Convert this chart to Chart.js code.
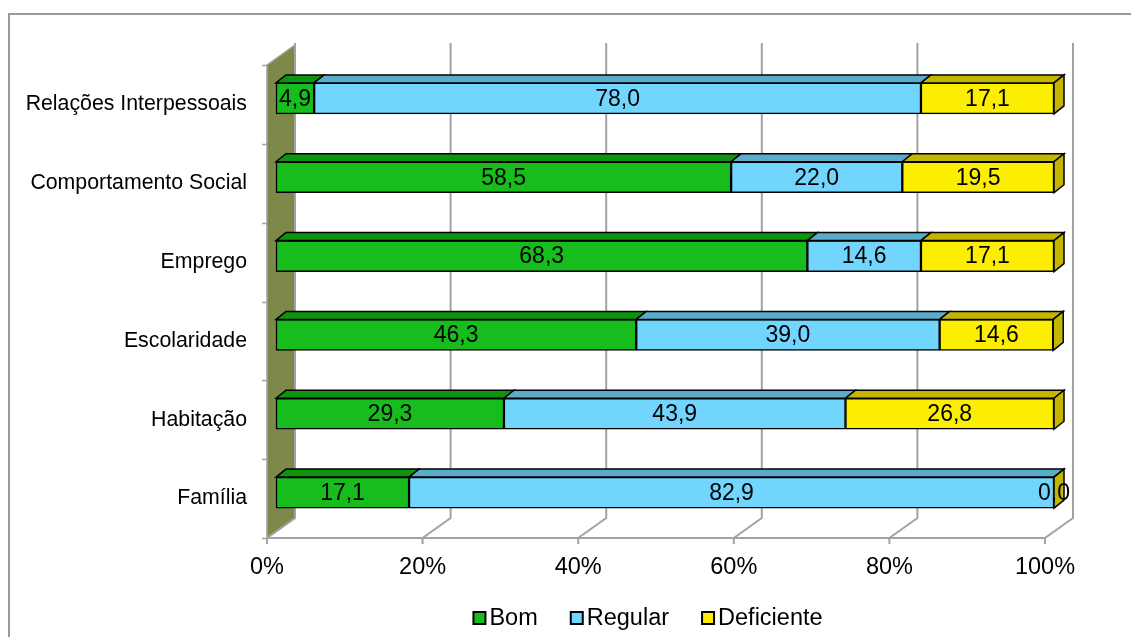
<!DOCTYPE html>
<html>
<head>
<meta charset="utf-8">
<title>Avaliação por domínio</title>
<script src="https://cdn.jsdelivr.net/npm/chart.js@4.4.1/dist/chart.umd.min.js"></script>
<style>
    html, body { margin: 0; padding: 0; background: #ffffff; }
    #wrap { width: 1131px; height: 637px; }
</style>
</head>
<body>
<div id="wrap"><canvas id="chart" width="1131" height="637"></canvas></div>
<script>
// Percentages per domain, one array per rating
const categories = ['Relações Interpessoais', 'Comportamento Social', 'Emprego', 'Escolaridade', 'Habitação', 'Família'];
const bom = [4.9, 58.5, 68.3, 46.3, 29.3, 17.1];
const regular = [78.0, 22.0, 14.6, 39.0, 43.9, 82.9];
const deficiente = [17.1, 19.5, 17.1, 14.6, 26.8, 0.0];
const seriesNames = ['Bom', 'Regular', 'Deficiente'];
const xTicks = [0, 20, 40, 60, 80, 100];

// front face / top-and-side face colours
const frontColors = ['#17BD1D', '#72D5FE', '#FBEE00'];
const shadeColors = ['#0E940E', '#5AADCA', '#C4B600'];

const WALL = { dx: 28, dy: -20 };      // depth of the back wall
const BAR_OFF = { dx: 9, dy: -6 };     // bars sit a bit behind the front plane
const BAR_DEPTH = { dx: 10, dy: -8 };  // thickness of each bar block
const GRID = '#A2A2A2';
const FONT = "'Liberation Sans', Arial, sans-serif";

Chart.defaults.font.family = FONT;
Chart.defaults.color = '#000000';

function poly(ctx, pts, fill, stroke, lw) {
    ctx.beginPath();
    ctx.moveTo(pts[0][0], pts[0][1]);
    for (let i = 1; i < pts.length; i++) ctx.lineTo(pts[i][0], pts[i][1]);
    ctx.closePath();
    if (fill) { ctx.fillStyle = fill; ctx.fill(); }
    if (stroke) { ctx.strokeStyle = stroke; ctx.lineWidth = lw || 1; ctx.stroke(); }
}

function fmt(v) {
    return v.toFixed(1).replace('.', ',');
}

// Draws the walls, floor and gridlines, then the 3D faces and value labels of the bars
const box3d = {
    id: 'box3d',
    beforeDatasetsDraw(chart) {
        const ctx = chart.ctx;
        const a = chart.chartArea;
        const xs = chart.scales.x;

        ctx.save();
        // outer frame
        ctx.strokeStyle = '#9A9A9A';
        ctx.lineWidth = 2;
        ctx.beginPath();
        ctx.moveTo(9, 660);
        ctx.lineTo(9, 14);
        ctx.lineTo(1160, 14);
        ctx.stroke();

        // left wall
        poly(ctx, [
            [a.left, a.top],
            [a.left + WALL.dx, a.top + WALL.dy],
            [a.left + WALL.dx, a.bottom + WALL.dy],
            [a.left, a.bottom]
        ], '#7C8948', GRID, 1.5);

        // category ticks on the wall edge
        const step = (a.bottom - a.top) / categories.length;
        ctx.strokeStyle = GRID;
        ctx.lineWidth = 1.5;
        for (let i = 0; i <= categories.length; i++) {
            const y = Math.round(a.top + i * step) + 0.5;
            ctx.beginPath();
            ctx.moveTo(a.left - 5, y);
            ctx.lineTo(a.left, y);
            ctx.stroke();
        }

        // floor edge, floor diagonals and back-wall gridlines
        ctx.lineWidth = 2;
        ctx.beginPath();
        ctx.moveTo(a.left, a.bottom);
        ctx.lineTo(a.right, a.bottom);
        ctx.stroke();
        xTicks.forEach(function(t) {
            const px = xs.getPixelForValue(t);
            ctx.beginPath();
            ctx.moveTo(px, a.bottom + 6);
            ctx.lineTo(px, a.bottom);
            ctx.lineTo(px + WALL.dx, a.bottom + WALL.dy);
            ctx.lineTo(px + WALL.dx, a.top + WALL.dy - 2);
            ctx.stroke();
        });
        ctx.restore();

        // shift the bars back into the scene
        ctx.save();
        ctx.translate(BAR_OFF.dx, BAR_OFF.dy);
    },
    afterDatasetsDraw(chart) {
        const ctx = chart.ctx;
        const last = chart.data.datasets.length - 1;
        chart.data.datasets.forEach(function(ds, di) {
            const meta = chart.getDatasetMeta(di);
            meta.data.forEach(function(el, i) {
                const p = el.getProps(['x', 'y', 'base', 'height'], true);
                const x0 = Math.min(p.x, p.base), x1 = Math.max(p.x, p.base);
                const y0 = p.y - p.height / 2, y1 = p.y + p.height / 2;
                // top face
                poly(ctx, [
                    [x0, y0],
                    [x0 + BAR_DEPTH.dx, y0 + BAR_DEPTH.dy],
                    [x1 + BAR_DEPTH.dx, y0 + BAR_DEPTH.dy],
                    [x1, y0]
                ], shadeColors[di], '#000', 1.5);
                // right end face on the last segment
                if (di === last) {
                    poly(ctx, [
                        [x1, y0],
                        [x1 + BAR_DEPTH.dx, y0 + BAR_DEPTH.dy],
                        [x1 + BAR_DEPTH.dx, y1 + BAR_DEPTH.dy],
                        [x1, y1]
                    ], shadeColors[di], '#000', 1.5);
                }
            });
        });
        // value labels
        ctx.font = '23px ' + FONT;
        ctx.fillStyle = '#000';
        ctx.textAlign = 'center';
        ctx.textBaseline = 'middle';
        chart.data.datasets.forEach(function(ds, di) {
            chart.getDatasetMeta(di).data.forEach(function(el, i) {
                const p = el.getProps(['x', 'y', 'base'], true);
                ctx.fillText(fmt(ds.data[i]), (p.x + p.base) / 2, p.y + 1);
            });
        });
        ctx.restore();
    },
    afterDraw(chart) {
        // legend
        const ctx = chart.ctx;
        ctx.save();
        ctx.font = '23.5px ' + FONT;
        ctx.textBaseline = 'middle';
        ctx.textAlign = 'left';
        const box = 12, gapText = 4, gapItem = 33;
        const widths = seriesNames.map(n => box + gapText + ctx.measureText(n).width);
        const total = widths.reduce((s, w) => s + w, 0) + gapItem * (seriesNames.length - 1);
        let x = 648 - total / 2;
        const cy = 618;
        seriesNames.forEach(function(name, i) {
            ctx.fillStyle = frontColors[i];
            ctx.fillRect(x, cy - box / 2, box, box);
            ctx.strokeStyle = '#000';
            ctx.lineWidth = 2;
            ctx.strokeRect(x, cy - box / 2, box, box);
            ctx.fillStyle = '#000';
            ctx.fillText(name, x + box + gapText, cy + 1);
            x += widths[i] + gapItem;
        });
        ctx.restore();
    }
};

const series = [bom, regular, deficiente];

new Chart(document.getElementById('chart'), {
    type: 'bar',
    data: {
        labels: categories,
        datasets: series.map(function(values, i) {
            return {
                label: seriesNames[i],
                data: values,
                backgroundColor: frontColors[i],
                borderColor: '#000000',
                borderWidth: 1.5,
                borderSkipped: false,
                barThickness: 31,
                clip: false
            };
        })
    },
    options: {
        indexAxis: 'y',
        responsive: false,
        animation: false,
        devicePixelRatio: 1,
        layout: { padding: { top: 65, right: 86, left: 0, bottom: 0 } },
        scales: {
            x: {
                stacked: true,
                min: 0,
                max: 100,
                afterBuildTicks: function(scale) {
                    scale.ticks = xTicks.map(v => ({ value: v }));
                },
                afterFit: function(scale) { scale.height = 99; },
                ticks: {
                    font: { size: 23.5 },
                    color: '#000',
                    padding: 15,
                    maxRotation: 0,
                    callback: v => v + '%'
                },
                grid: { display: false, drawTicks: false },
                border: { display: false }
            },
            y: {
                stacked: true,
                afterFit: function(scale) { scale.width = 267; },
                ticks: {
                    font: { size: 21.3 },
                    color: '#000',
                    padding: 20
                },
                grid: { display: false, drawTicks: false },
                border: { display: false }
            }
        },
        plugins: {
            legend: { display: false },
            tooltip: { enabled: false }
        }
    },
    plugins: [box3d]
});
</script>
</body>
</html>
